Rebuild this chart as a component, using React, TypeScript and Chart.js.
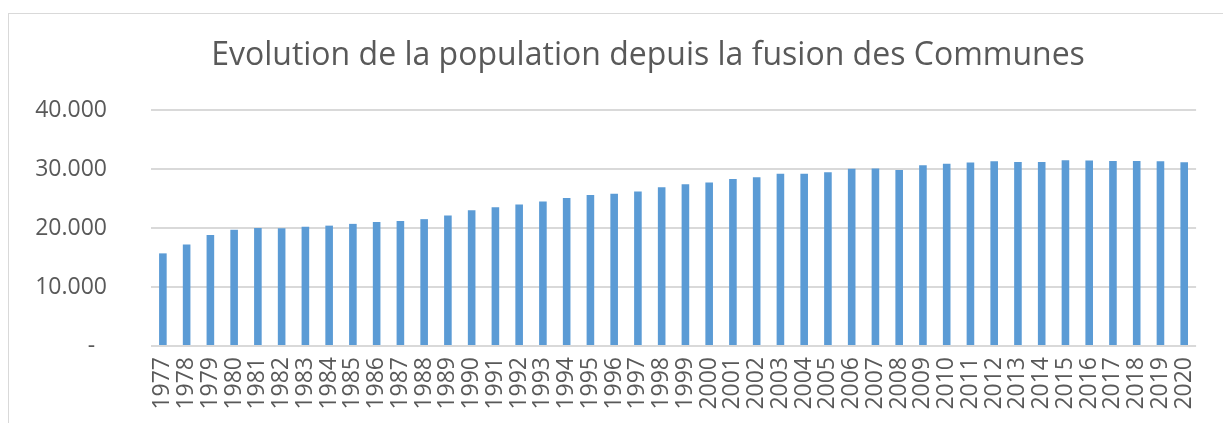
import React, { useEffect, useRef } from "react";
import { Chart, registerables } from "chart.js";

Chart.register(...registerables);

const years: string[] = [
  "1977", "1978", "1979", "1980", "1981", "1982", "1983", "1984", "1985", "1986", "1987",
  "1988", "1989", "1990", "1991", "1992", "1993", "1994", "1995", "1996", "1997", "1998",
  "1999", "2000", "2001", "2002", "2003", "2004", "2005", "2006", "2007", "2008", "2009",
  "2010", "2011", "2012", "2013", "2014", "2015", "2016", "2017", "2018", "2019", "2020",
];

const population: number[] = [
  15700, 17200, 18800, 19700, 20000, 19950, 20200, 20400, 20700, 21000, 21200,
  21500, 22100, 23000, 23500, 24000, 24500, 25100, 25600, 25800, 26200, 26900,
  27400, 27700, 28300, 28600, 29200, 29200, 29450, 30050, 30100, 29850, 30650,
  30900, 31100, 31300, 31200, 31200, 31500, 31450, 31350, 31350, 31300, 31150,
];

const yTicks: number[] = [0, 10000, 20000, 30000, 40000];

const titleText = "Evolution de la population depuis la fusion des Communes";

function formatThousands(v: number): string {
  if (v === 0) return "-\u00a0\u00a0";
  const s = String(Math.round(v));
  return s.replace(/\B(?=(\d{3})+(?!\d))/g, ".");
}

const textColor = "#595959";

// Title centred on the full (wider, cropped) chart frame rather than the visible canvas
const titlePlugin = {
  id: "frameTitle",
  afterDraw(chart: any) {
    const ctx = chart.ctx;
    ctx.save();
    ctx.fillStyle = textColor;
    ctx.font = "normal 32px 'Open Sans', sans-serif";
    ctx.textAlign = "center";
    ctx.textBaseline = "alphabetic";
    ctx.fillText(titleText, 648, 65);
    ctx.restore();
  },
};

export default function App() {
  const canvasRef = useRef<HTMLCanvasElement | null>(null);

  useEffect(() => {
    if (!canvasRef.current) return;
    const chart = new Chart(canvasRef.current, {
      type: "bar",
      data: {
        labels: years,
        datasets: [
          {
            label: "Population",
            data: population,
            backgroundColor: "#5b9bd5",
            borderWidth: 0,
            barPercentage: 0.32,
            categoryPercentage: 1,
          },
        ],
      },
      options: {
        animation: false,
        responsive: false,
        maintainAspectRatio: false,
        layout: { padding: { left: 0, right: 17, top: 110, bottom: 0 } },
        plugins: {
          legend: { display: false },
          tooltip: { enabled: false },
          title: { display: false },
        },
        scales: {
          x: {
            grid: { display: false, drawTicks: false },
            border: { display: false },
            ticks: {
              autoSkip: false,
              maxRotation: 90,
              minRotation: 90,
              padding: 11,
              color: textColor,
              font: { family: "'Open Sans', sans-serif", size: 23 },
            },
            afterFit: (scale: any) => {
              scale.height = 77;
            },
          },
          y: {
            min: 0,
            max: 40000,
            afterBuildTicks: (scale: any) => {
              scale.ticks = yTicks.map((v) => ({ value: v }));
            },
            grid: { color: "#d9d9d9", lineWidth: 2, drawTicks: false },
            border: { display: false },
            ticks: {
              padding: 44,
              color: textColor,
              font: { family: "'Open Sans', sans-serif", size: 23 },
              callback: (v: any) => formatThousands(Number(v)),
            },
            afterFit: (scale: any) => {
              scale.width = 151;
            },
          },
        },
      },
      plugins: [titlePlugin],
    } as any);
    return () => chart.destroy();
  }, []);

  return (
    <div
      style={{
        position: "fixed",
        left: 0,
        top: 0,
        width: 1223,
        height: 423,
        overflow: "hidden",
        background: "#ffffff",
      }}
    >
      <canvas
        ref={canvasRef}
        width={1223}
        height={423}
        style={{ position: "absolute", left: 0, top: 0, width: 1223, height: 423 }}
      />
      <div
        style={{
          position: "absolute",
          left: 8,
          top: 13,
          width: 1300,
          height: 500,
          border: "1px solid #d9d9d9",
          pointerEvents: "none",
        }}
      />
    </div>
  );
}
